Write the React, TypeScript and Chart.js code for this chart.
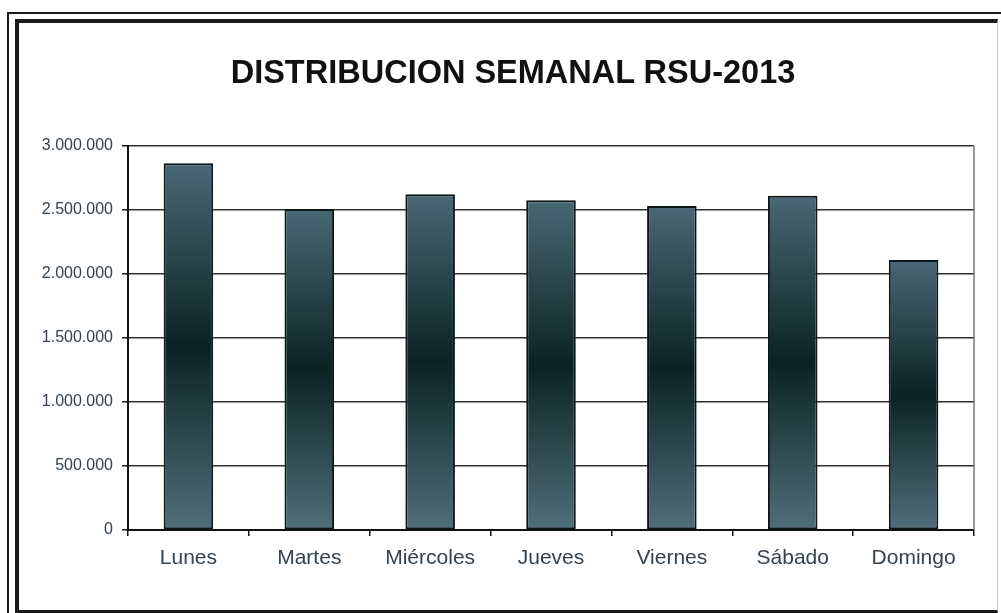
import React, { useEffect, useRef } from "react";
import { Chart, registerables } from "chart.js";

Chart.register(...registerables);

const TITLE = "DISTRIBUCION SEMANAL RSU-2013";
const categories = ["Lunes", "Martes", "Miércoles", "Jueves", "Viernes", "Sábado", "Domingo"];
const values = [2865000, 2508000, 2623000, 2576000, 2531000, 2612000, 2109000];
const yTicks = [0, 500000, 1000000, 1500000, 2000000, 2500000, 3000000];

const FONT = "'Liberation Sans', Arial, sans-serif";
const TICK_COLOR = "#34434f";

function fmt(v: number): string {
  return String(Math.round(v)).replace(/\B(?=(\d{3})+(?!\d))/g, ".");
}

const rightBorderPlugin = {
  id: "rightBorder",
  afterDraw(chart: any) {
    const { ctx, chartArea } = chart;
    if (!chartArea) return;
    ctx.save();
    ctx.strokeStyle = "#6f7a7c";
    ctx.lineWidth = 1.5;
    ctx.beginPath();
    ctx.moveTo(chartArea.right, chartArea.top);
    ctx.lineTo(chartArea.right, chartArea.bottom);
    ctx.stroke();
    ctx.restore();
  },
};

export default function App() {
  const ref = useRef<HTMLCanvasElement | null>(null);

  useEffect(() => {
    if (!ref.current) return;
    const chart = new Chart(ref.current, {
      type: "bar",
      data: {
        labels: categories,
        datasets: [
          {
            data: values,
            backgroundColor: (c: any) => {
              const ch = c.chart;
              const ys = ch.scales && ch.scales.y;
              if (!ch.chartArea || !ys || c.raw == null) return "#2a4650";
              const top = ys.getPixelForValue(c.raw as number);
              const bottom = ys.getPixelForValue(0);
              const g = ch.ctx.createLinearGradient(0, top, 0, bottom);
              g.addColorStop(0, "#486874");
              g.addColorStop(0.5, "#0b2223");
              g.addColorStop(1, "#4f6f7a");
              return g;
            },
            borderColor: "#0a1618",
            borderWidth: 2,
            borderSkipped: false,
            categoryPercentage: 1,
            barPercentage: 0.41,
          },
        ],
      },
      options: {
        responsive: false,
        animation: false,
        layout: { padding: { left: 28, right: 27, top: 146, bottom: 41 } },
        plugins: {
          legend: { display: false },
          title: { display: false },
          tooltip: { enabled: false },
        },
        scales: {
          x: {
            offset: true,
            grid: {
              offset: true,
              drawOnChartArea: false,
              drawTicks: true,
              tickLength: 6,
              tickColor: "#111",
              lineWidth: 1.5,
            },
            border: { display: true, color: "#111", width: 2 },
            ticks: {
              color: TICK_COLOR,
              font: { family: FONT, size: 21 },
              padding: 10,
              maxRotation: 0,
              autoSkip: false,
            },
            afterFit: (s: any) => {
              s.height = 42;
            },
          },
          y: {
            min: 0,
            max: 3000000,
            afterBuildTicks: (s: any) => {
              s.ticks = yTicks.map((v) => ({ value: v }));
            },
            grid: {
              color: "#2f2f2f",
              lineWidth: 1.5,
              drawTicks: true,
              tickLength: 6,
              tickColor: "#111",
            },
            border: { display: true, color: "#111", width: 2 },
            ticks: {
              color: TICK_COLOR,
              font: { family: FONT, size: 16 },
              padding: 9,
              callback: (v: any) => fmt(Number(v)),
            },
            afterFit: (s: any) => {
              s.width = 100;
            },
          },
        },
      },
      plugins: [rightBorderPlugin],
    } as any);
    return () => chart.destroy();
  }, []);

  return (
    <div
      style={{
        position: "absolute",
        left: 0,
        top: 0,
        width: 1001,
        height: 613,
        background: "#fff",
        overflow: "hidden",
      }}
    >
      <canvas
        ref={ref}
        width={1001}
        height={613}
        style={{ position: "absolute", left: 0, top: 0, width: 1001, height: 613 }}
      />
      <div
        style={{
          position: "absolute",
          left: 13,
          top: 54,
          width: 1000,
          textAlign: "center",
          fontFamily: FONT,
          fontWeight: "bold",
          fontSize: 32.5,
          lineHeight: "36px",
          color: "#111",
        }}
      >
        {TITLE}
      </div>
      <div
        style={{
          position: "absolute",
          left: 7,
          top: 12,
          width: 1010,
          height: 620,
          border: "2px solid #1a1a1a",
          boxSizing: "border-box",
          pointerEvents: "none",
        }}
      />
      <div
        style={{
          position: "absolute",
          left: 15,
          top: 19,
          width: 983,
          height: 594,
          borderLeft: "4px solid #1a1a1a",
          borderTop: "4px solid #1a1a1a",
          borderBottom: "3px solid #1a1a1a",
          borderRight: "1px solid #c8c8c8",
          boxSizing: "border-box",
          pointerEvents: "none",
        }}
      />
    </div>
  );
}
